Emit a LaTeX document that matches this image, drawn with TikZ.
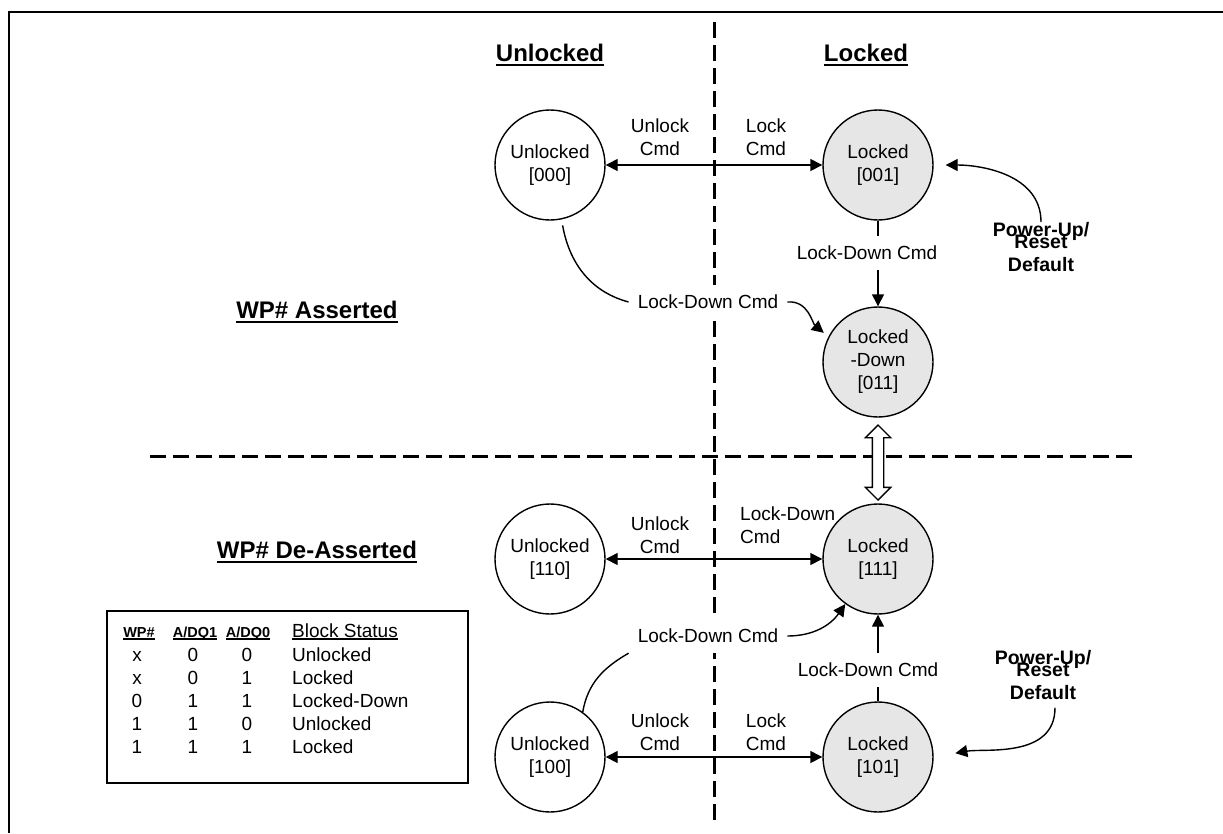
\documentclass[tikz,border=0pt]{standalone}
\usepackage{fontspec}
\setmainfont{Liberation Sans}
\usetikzlibrary{arrows.meta, shapes.arrows, backgrounds}
\definecolor{lockgray}{RGB}{230, 230, 230}

% underline with a rule of given depth and thickness
\newcommand{\ulhd}[3]{\setbox0=\hbox{#3}\leavevmode\rlap{\rule[#1]{\wd0}{#2}}\box0}

\tikzset{
  statecircle/.style={circle, draw, line width=1.4pt, minimum size=110pt, inner sep=0pt,
    align=center, font=\fontsize{19}{23}\selectfont},
  unlockedstate/.style={statecircle, fill=white},
  lockedstate/.style={statecircle, fill=lockgray},
  cmd/.style={align=center, inner sep=0pt, font=\fontsize{19}{23.5}\selectfont},
  cmdgap/.style={cmd, fill=white, inner xsep=9pt, inner ysep=10pt},
  heading/.style={inner sep=0pt, font=\bfseries\fontsize{24}{28}\selectfont},
  powerup/.style={align=center, inner sep=0pt, font=\bfseries\fontsize{19.5}{23}\selectfont},
  tabcell/.style={anchor=base, inner sep=0pt, font=\fontsize{19}{23}\selectfont},
  tabhead/.style={anchor=base, inner sep=0pt, font=\bfseries\fontsize{14.5}{17}\selectfont},
  divider/.style={line width=3pt, dash pattern=on 16pt off 7pt},
  cmdarrow/.style={line width=1.4pt, -{Triangle[length=12pt, width=12pt]}},
  cmdboth/.style={line width=1.4pt, {Triangle[length=12pt, width=12pt]}-{Triangle[length=12pt, width=12pt]}},
  swaparrow/.style={double arrow, draw, fill=white, line width=1.4pt, rotate=90,
    minimum height=75pt, inner xsep=0pt, inner ysep=5pt, double arrow head extend=7pt}
}

\begin{document}
\begin{tikzpicture}[x=1pt, y=-1pt]
  \useasboundingbox (0,0) rectangle (1223,833);

  % headings
  \node[heading] (hdunlocked) at (550,55) {\ulhd{-4pt}{2pt}{Unlocked}};
  \node[heading] (hdlocked) at (866,55) {\ulhd{-4pt}{2pt}{Locked}};
  \node[heading] (hdasserted) at (317,312) {\ulhd{-4pt}{2pt}{WP\# Asserted}};
  \node[heading] (hddeasserted) at (317,552) {\ulhd{-4pt}{2pt}{WP\# De-Asserted}};

  % WP# asserted
  \node[unlockedstate] (u000) at (550,165) {Unlocked\\{[000]}};
  \node[lockedstate] (l001) at (878,165) {Locked\\{[001]}};
  \node[lockedstate] (ld011) at (878,362) {Locked\\-Down\\{[011]}};

  % WP# de-asserted
  \node[unlockedstate] (u110) at (550,559) {Unlocked\\{[110]}};
  \node[lockedstate] (l111) at (878,559) {Locked\\{[111]}};
  \node[unlockedstate] (u100) at (550,757) {Unlocked\\{[100]}};
  \node[lockedstate] (l101) at (878,757) {Locked\\{[101]}};

  % command labels
  \node[cmd] (unlocktop) at (660,137) {Unlock\\Cmd};
  \node[cmd] (locktop) at (766,137) {Lock\\Cmd};
  \node[cmdgap] (ldvert) at (867,253) {Lock-Down Cmd};
  \node[cmdgap] (ldcurve) at (708,302) {Lock-Down Cmd};
  \node[cmd] (unlockmid) at (660,535) {Unlock\\Cmd};
  \node[cmd, align=left, anchor=west] (ldmid) at (740,525) {Lock-Down\\Cmd};
  \node[cmdgap] (ldlow) at (708,636) {Lock-Down Cmd};
  \node[cmdgap] (ldup) at (868,670) {Lock-Down Cmd};
  \node[cmd] (unlocklow) at (660,732) {Unlock\\Cmd};
  \node[cmd] (locklow) at (766,732) {Lock\\Cmd};

  % power-up defaults
  \node[powerup, anchor=north] (putop) at (1041,222) {Power-Up/\\[-11pt]Reset\\Default};
  \node[powerup, anchor=north] (pubottom) at (1043,650) {Power-Up/\\[-11pt]Reset\\Default};

  \node[swaparrow] (swap) at (878,462.5) {};

  % transitions
  \draw[cmdboth] (u000) -- (l001);
  \draw[cmdboth] (u110) -- (l111);
  \draw[cmdboth] (u100) -- (l101);
  \draw[line width=1.4pt, shorten <=6pt] (u000.-78) to[out=-80, in=165] (ldcurve.west);
  \draw[cmdarrow, shorten >=6pt] (ldcurve.east) to[out=5, in=140] (ld011.153);
  \draw[line width=1.4pt] (u100.54) to[out=80, in=210] (ldlow.south west);
  \draw[cmdarrow] (ldlow.east) to[out=0, in=235] (l111.234);
  \draw[cmdarrow, shorten >=12pt] (putop.north) to[out=90, in=0] (l001.east);
  \draw[cmdarrow, shorten >=22pt] ([xshift=12pt, yshift=-8pt]pubottom.south) to[out=-90, in=10] (l101.east);

  % status table
  \draw[line width=1.4pt] (107,611) rectangle (468,783);
  \node[tabhead] (thwp) at (139,637) {\ulhd{-2.5pt}{1.2pt}{WP\#}};
  \node[tabhead] (thdq1) at (195,637) {\ulhd{-2.5pt}{1.2pt}{A/DQ1}};
  \node[tabhead] (thdq0) at (248,637) {\ulhd{-2.5pt}{1.2pt}{A/DQ0}};
  \node[tabcell, anchor=base west] (thstat) at (292,637) {\ulhd{-2.5pt}{1.3pt}{Block Status}};
  \foreach \wp/\dqone/\dqzero/\status [count=\r] in
    {x/0/0/Unlocked, x/0/1/Locked, 0/1/1/Locked-Down, 1/1/0/Unlocked, 1/1/1/Locked} {
    \node[tabcell] (wp\r) at (137,638+23*\r) {\wp};
    \node[tabcell] (dqa\r) at (193,638+23*\r) {\dqone};
    \node[tabcell] (dqb\r) at (247,638+23*\r) {\dqzero};
    \node[tabcell, anchor=base west] (st\r) at (292,638+23*\r) {\status};
  }

  \begin{scope}[on background layer]
    % frame and region dividers
    \draw[line width=2.8pt] (9,833) -- (9,12) -- (1223,12);
    \draw[divider] (714,22) -- (714,822);
    \draw[divider] (150,456) -- (1133,456);
    % straight lock-down transitions
    \draw[cmdarrow] (l001) -- (ld011);
    \draw[cmdarrow] (l101) -- (l111);
  \end{scope}
\end{tikzpicture}
\end{document}
